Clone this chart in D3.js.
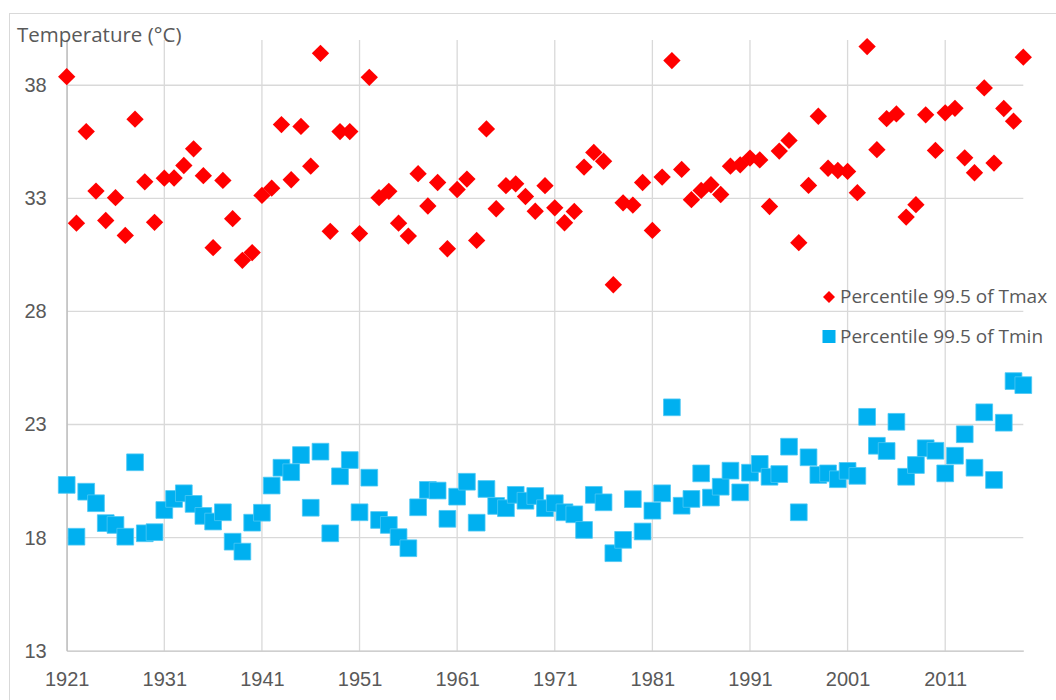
<!DOCTYPE html>
<html>
<head>
<meta charset="utf-8">
<script src="https://cdn.jsdelivr.net/npm/d3@7"></script>
<style>
  body { margin: 0; background: #fff; }
  svg { display: block; font-family: "Open Sans", sans-serif; }
</style>
</head>
<body>
<div id="chart"></div>
<script>
const years = d3.range(1921, 2020);

const tmax = [
  38.38, 31.90, 35.95, 33.32, 32.02, 33.03, 31.36, 36.50, 33.73, 31.94,
  33.89, 33.90, 34.45, 35.19, 34.00, 30.82, 33.79, 32.10, 30.26, 30.60,
  33.13, 33.45, 36.26, 33.82, 36.18, 34.42, 39.41, 31.54, 35.95, 35.95,
  31.44, 38.35, 33.03, 33.31, 31.90, 31.33, 34.09, 32.66, 33.70, 30.77,
  33.39, 33.85, 31.14, 36.07, 32.54, 33.56, 33.64, 33.08, 32.43, 33.56,
  32.58, 31.92, 32.42, 34.38, 35.03, 34.64, 29.18, 32.80, 32.70, 33.70,
  31.58, 33.94, 39.09, 34.28, 32.94, 33.35, 33.60, 33.17, 34.42, 34.48,
  34.78, 34.70, 32.64, 35.09, 35.56, 31.04, 33.57, 36.63, 34.33, 34.23,
  34.19, 33.25, 39.71, 35.15, 36.52, 36.73, 32.17, 32.72, 36.69, 35.12,
  36.78, 36.98, 34.79, 34.13, 37.88, 34.56, 36.97, 36.41, 39.24
];

const tmin = [
  20.33, 18.04, 20.03, 19.52, 18.64, 18.56, 18.04, 21.33, 18.19, 18.24,
  19.22, 19.71, 19.96, 19.49, 18.96, 18.71, 19.12, 17.82, 17.38, 18.66,
  19.10, 20.30, 21.09, 20.89, 21.65, 19.32, 21.80, 18.19, 20.71, 21.43,
  19.12, 20.65, 18.78, 18.56, 18.02, 17.53, 19.34, 20.11, 20.08, 18.83,
  19.81, 20.47, 18.66, 20.15, 19.40, 19.30, 19.89, 19.63, 19.84, 19.30,
  19.52, 19.12, 19.03, 18.34, 19.89, 19.56, 17.31, 17.90, 19.70, 18.27,
  19.19, 19.96, 23.76, 19.41, 19.71, 20.84, 19.77, 20.25, 20.96, 20.00,
  20.87, 21.26, 20.69, 20.81, 22.02, 19.12, 21.55, 20.77, 20.84, 20.58,
  20.95, 20.73, 23.34, 22.06, 21.83, 23.12, 20.69, 21.21, 21.95, 21.84,
  20.84, 21.62, 22.57, 21.09, 23.54, 20.55, 23.08, 24.92, 24.74
];

const xTicks = [1921, 1931, 1941, 1951, 1961, 1971, 1981, 1991, 2001, 2011];
const yTicks = [13, 18, 23, 28, 33, 38];
const seriesNames = ['Percentile 99.5 of Tmax', 'Percentile 99.5 of Tmin'];

const width = 1056, height = 700;
const margin = { top: 40, right: 32.7, bottom: 49.3, left: 66.7 };
const textColor = '#595959';

const svg = d3.select('#chart').append('svg')
  .attr('width', width)
  .attr('height', height);

// chart area border
svg.append('rect')
  .attr('x', 9.5).attr('y', 13.5)
  .attr('width', 1060).attr('height', 700)
  .attr('fill', 'none')
  .attr('stroke', '#d9d9d9')
  .attr('stroke-width', 1);

const x = d3.scaleLinear()
  .domain([1921, 2019])
  .range([margin.left, width - margin.right]);

const y = d3.scaleLinear()
  .domain([13, 40])
  .range([height - margin.bottom, margin.top]);

// gridlines
svg.append('g')
  .selectAll('line')
  .data(xTicks)
  .enter().append('line')
  .attr('x1', d => x(d)).attr('x2', d => x(d))
  .attr('y1', y(40)).attr('y2', y(13))
  .attr('stroke', '#d9d9d9')
  .attr('stroke-width', 1.3);

svg.append('g')
  .selectAll('line')
  .data(yTicks.slice(1))
  .enter().append('line')
  .attr('x1', x(1921)).attr('x2', x(2019))
  .attr('y1', d => y(d)).attr('y2', d => y(d))
  .attr('stroke', '#d9d9d9')
  .attr('stroke-width', 1.3);

// axes
const xAxis = svg.append('g')
  .attr('transform', `translate(0,${y(13)})`)
  .call(d3.axisBottom(x).tickValues(xTicks).tickFormat(d3.format('d')).tickSize(0).tickPadding(21));
xAxis.select('.domain').attr('stroke', '#bfbfbf').attr('stroke-width', 1.3);
xAxis.selectAll('text').attr('fill', textColor).style('font-size', '20px');

const yAxis = svg.append('g')
  .attr('transform', `translate(${x(1921)},0)`)
  .call(d3.axisLeft(y).tickValues(yTicks).tickSize(0).tickPadding(20));
yAxis.select('.domain').attr('stroke', '#bfbfbf').attr('stroke-width', 1.3);
yAxis.selectAll('text').attr('fill', textColor).style('font-size', '20px');

svg.append('text')
  .attr('x', 17).attr('y', 42)
  .attr('fill', textColor)
  .style('font-size', '20.5px')
  .text('Temperature (°C)');

// markers
const diamond = d3.symbol().type(d3.symbolSquare).size(150);
const square = d3.symbol().type(d3.symbolSquare).size(280);

svg.append('g')
  .selectAll('path')
  .data(tmin)
  .enter().append('path')
  .attr('d', square)
  .attr('transform', (d, i) => `translate(${x(years[i])},${y(d)})`)
  .attr('fill', '#00b0f0')
  .attr('stroke', '#4cc8f4')
  .attr('stroke-width', 0.8);

svg.append('g')
  .selectAll('path')
  .data(tmax)
  .enter().append('path')
  .attr('d', diamond)
  .attr('transform', (d, i) => `translate(${x(years[i])},${y(d)}) rotate(45)`)
  .attr('fill', '#ff0000');

// legend
const legend = svg.append('g').attr('transform', 'translate(829,0)');
legend.append('path')
  .attr('d', d3.symbol().type(d3.symbolSquare).size(72))
  .attr('transform', 'translate(0,297) rotate(45)')
  .attr('fill', '#ff0000');
legend.append('rect')
  .attr('x', -6.5).attr('y', 330)
  .attr('width', 13).attr('height', 13)
  .attr('fill', '#00b0f0');
legend.selectAll('text')
  .data(seriesNames)
  .enter().append('text')
  .attr('x', 11)
  .attr('y', (d, i) => 303 + i * 40)
  .attr('fill', textColor)
  .style('font-size', '19px')
  .text(d => d);
</script>
</body>
</html>
